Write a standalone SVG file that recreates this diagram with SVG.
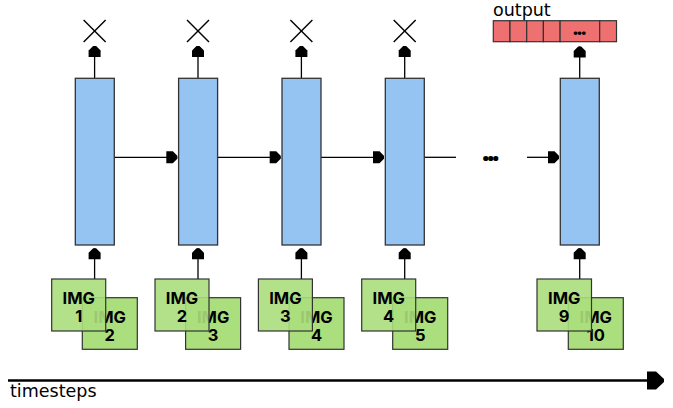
<svg xmlns="http://www.w3.org/2000/svg" width="673" height="408" viewBox="0 0 673 408">
  <style>
    .cell { fill: #95c3f2; stroke: #333333; stroke-width: 1.3; }
    .img { fill: #abde7c; stroke: #333333; stroke-width: 1.2; }
    .front { fill-opacity: 0.9; }
    .lbl { font-family: Inter, "Liberation Sans", sans-serif; font-weight: bold; font-size: 16.5px; fill: #000; text-anchor: middle; }
    .plain { font-family: "DejaVu Sans", sans-serif; font-size: 17.5px; fill: #000; }
    .ln { stroke: #000; stroke-width: 1.3; fill: none; }
    .x { stroke: #000; stroke-width: 1.4; }
    .out { fill: #ee7070; stroke: #333333; stroke-width: 1.2; }
    .dots { font-family: "Noto Sans", sans-serif; font-weight: bold; font-size: 30px; fill: #000; letter-spacing: -3.4px; }
  </style>
  <defs>
    <marker id="ah" markerUnits="userSpaceOnUse" viewBox="-12 -7 13 14" refX="0" refY="0" markerWidth="13" markerHeight="14" orient="auto">
      <path d="M-11,-6 L-4.5,-6 L0,-1.5 L0,1.5 L-4.5,6 L-11,6 Z" fill="#000"/>
    </marker>
    <marker id="ahBig" markerUnits="userSpaceOnUse" viewBox="-18 -10 19 20" refX="0" refY="0" markerWidth="19" markerHeight="20" orient="auto">
      <path d="M-17,-9 L-8,-9 L0,-1.5 L0,1.5 L-8,9 L-17,9 Z" fill="#000"/>
    </marker>
  </defs>

  <!-- connectors -->
  <g id="connectors">
    <line class="ln" x1="94.6" y1="279" x2="94.6" y2="248.3" marker-end="url(#ah)"/>
    <line class="ln" x1="198" y1="279" x2="198" y2="248.3" marker-end="url(#ah)"/>
    <line class="ln" x1="301.4" y1="279" x2="301.4" y2="248.3" marker-end="url(#ah)"/>
    <line class="ln" x1="404.7" y1="279" x2="404.7" y2="248.3" marker-end="url(#ah)"/>
    <line class="ln" x1="579.7" y1="279" x2="579.7" y2="248.3" marker-end="url(#ah)"/>
    <line class="ln" x1="94.6" y1="78" x2="94.6" y2="46" marker-end="url(#ah)"/>
    <line class="ln" x1="198" y1="78" x2="198" y2="46" marker-end="url(#ah)"/>
    <line class="ln" x1="301.4" y1="78" x2="301.4" y2="46" marker-end="url(#ah)"/>
    <line class="ln" x1="404.7" y1="78" x2="404.7" y2="46" marker-end="url(#ah)"/>
    <line class="ln" x1="579.7" y1="78" x2="579.7" y2="46.5" marker-end="url(#ah)"/>
    <line class="ln" x1="114.3" y1="157.3" x2="177.3" y2="157.3" marker-end="url(#ah)"/>
    <line class="ln" x1="217.7" y1="157.3" x2="280.7" y2="157.3" marker-end="url(#ah)"/>
    <line class="ln" x1="321" y1="157.3" x2="384" y2="157.3" marker-end="url(#ah)"/>
    <line class="ln" x1="424.3" y1="157.3" x2="456" y2="157.3"/>
    <line class="ln" x1="527" y1="157.3" x2="559" y2="157.3" marker-end="url(#ah)"/>
    <line x1="8" y1="380.5" x2="664" y2="380.5" stroke="#000" stroke-width="2.6" marker-end="url(#ahBig)"/>
  </g>

  <text class="dots" x="481.5" y="160.5">...</text>

  <!-- cells -->
  <g id="cell1"><rect class="cell" x="75.3" y="78.3" width="39" height="166.7"/></g>
  <g id="cell2"><rect class="cell" x="178.6" y="78.3" width="39" height="166.7"/></g>
  <g id="cell3"><rect class="cell" x="282" y="78.3" width="39" height="166.7"/></g>
  <g id="cell4"><rect class="cell" x="385.3" y="78.3" width="39" height="166.7"/></g>
  <g id="cell5"><rect class="cell" x="560.3" y="78.3" width="39" height="166.7"/></g>

  <!-- X outputs -->
  <g id="x1"><line class="x" x1="83.6" y1="20" x2="105.6" y2="42"/><line class="x" x1="105.6" y1="20" x2="83.6" y2="42"/></g>
  <g id="x2"><line class="x" x1="187" y1="20" x2="209" y2="42"/><line class="x" x1="209" y1="20" x2="187" y2="42"/></g>
  <g id="x3"><line class="x" x1="290.4" y1="20" x2="312.4" y2="42"/><line class="x" x1="312.4" y1="20" x2="290.4" y2="42"/></g>
  <g id="x4"><line class="x" x1="393.7" y1="20" x2="415.7" y2="42"/><line class="x" x1="415.7" y1="20" x2="393.7" y2="42"/></g>

  <!-- output bar -->
  <g id="output">
    <text class="plain" x="493" y="15.5">output</text>
    <rect class="out" x="493.3" y="20.7" width="16.7" height="21"/>
    <rect class="out" x="510" y="20.7" width="16.7" height="21"/>
    <rect class="out" x="526.7" y="20.7" width="16.7" height="21"/>
    <rect class="out" x="543.4" y="20.7" width="16.7" height="21"/>
    <rect class="out" x="560.1" y="20.7" width="39.6" height="21"/>
    <rect class="out" x="599.7" y="20.7" width="16.8" height="21"/>
    <text x="572.5" y="34.5" style="font-family:'Noto Sans',sans-serif;font-weight:bold;font-size:21px;letter-spacing:-1.8px;fill:#000">...</text>
  </g>

  <!-- IMG pairs -->
  <g id="img1">
    <rect class="img" x="82.3" y="297.7" width="55" height="51.6"/>
    <text class="lbl" x="109.8" y="322.7">IMG</text><text class="lbl" x="109.8" y="341">2</text>
    <rect class="img front" x="51.7" y="279" width="54" height="52"/>
    <text class="lbl" x="78.7" y="304">IMG</text><text class="lbl" x="78.7" y="322.3">1</text>
  </g>
  <g id="img2">
    <rect class="img" x="185.6" y="297.7" width="55" height="51.6"/>
    <text class="lbl" x="213.1" y="322.7">IMG</text><text class="lbl" x="213.1" y="341">3</text>
    <rect class="img front" x="155" y="279" width="54" height="52"/>
    <text class="lbl" x="182" y="304">IMG</text><text class="lbl" x="182" y="322.3">2</text>
  </g>
  <g id="img3">
    <rect class="img" x="289" y="297.7" width="55" height="51.6"/>
    <text class="lbl" x="316.5" y="322.7">IMG</text><text class="lbl" x="316.5" y="341">4</text>
    <rect class="img front" x="258.4" y="279" width="54" height="52"/>
    <text class="lbl" x="285.4" y="304">IMG</text><text class="lbl" x="285.4" y="322.3">3</text>
  </g>
  <g id="img4">
    <rect class="img" x="392.7" y="297.7" width="55" height="51.6"/>
    <text class="lbl" x="420.2" y="322.7">IMG</text><text class="lbl" x="420.2" y="341">5</text>
    <rect class="img front" x="361.7" y="279" width="54" height="52"/>
    <text class="lbl" x="388.7" y="304">IMG</text><text class="lbl" x="388.7" y="322.3">4</text>
  </g>
  <g id="img5">
    <rect class="img" x="568.3" y="297.7" width="55" height="51.6"/>
    <text class="lbl" x="595.8" y="322.7">IMG</text><text class="lbl" x="595.8" y="341">10</text>
    <rect class="img front" x="537" y="279" width="54.5" height="52"/>
    <text class="lbl" x="564.2" y="304">IMG</text><text class="lbl" x="564.2" y="322.3">9</text>
  </g>

  <text class="plain" x="10" y="397">timesteps</text>
</svg>
